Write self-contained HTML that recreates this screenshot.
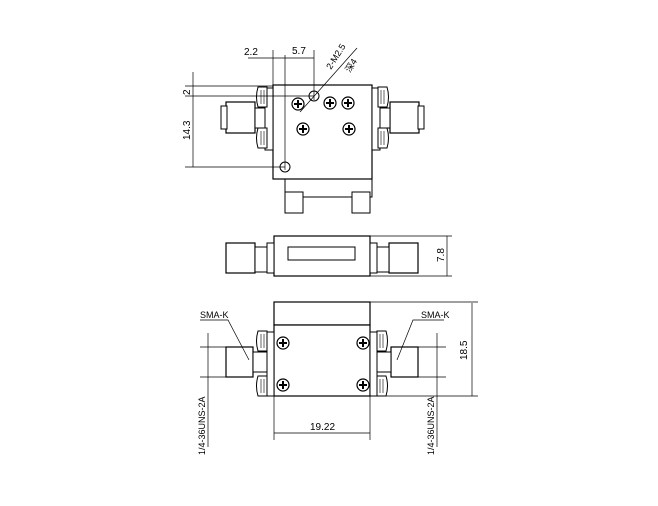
<!DOCTYPE html>
<html><head><style>html,body{margin:0;padding:0;background:#fff;width:658px;height:506px;overflow:hidden}</style></head>
<body>
<svg width="658" height="506" viewBox="0 0 658 506" xmlns="http://www.w3.org/2000/svg" font-family="Liberation Sans, Noto Sans CJK SC, sans-serif" font-size="10" fill="none" stroke="#000" stroke-width="1">
<defs>
<g id="scr"><circle r="6" fill="#fff" stroke-width="1.2"/><path d="M-4 0H4M0 -4V4" stroke-width="2"/></g>
<g id="nut"><path d="M0 0 q-3 10 0 20 h9 v-20z" fill="#fff"/><path d="M3 3v14M6 3v14" stroke-width="0.6"/></g>
</defs>
<!-- TOP VIEW -->
<rect x="285" y="179" width="87" height="18" fill="#fff"/>
<rect x="285" y="192" width="18" height="21" fill="#fff"/>
<rect x="352" y="192" width="18" height="21" fill="#fff"/>
<rect x="273" y="85" width="99" height="94" fill="#fff" stroke-width="1.2"/>
<rect x="226" y="102" width="29" height="31" fill="#fff" stroke-width="1.2"/>
<rect x="221" y="106" width="6" height="23" fill="#fff"/>
<rect x="255" y="108" width="12" height="20" fill="#fff"/>
<rect x="265" y="88" width="8" height="62" fill="#fff"/>
<use href="#nut" x="258" y="87"/><use href="#nut" x="258" y="128"/>
<rect x="390" y="102" width="29" height="31" fill="#fff" stroke-width="1.2"/>
<rect x="418" y="106" width="6" height="23" fill="#fff"/>
<rect x="378" y="108" width="12" height="20" fill="#fff"/>
<rect x="372" y="88" width="8" height="62" fill="#fff"/>
<g transform="translate(387,87) scale(-1,1)"><use href="#nut"/></g>
<g transform="translate(387,128) scale(-1,1)"><use href="#nut"/></g>
<use href="#scr" x="298" y="104"/><use href="#scr" x="330" y="103"/><use href="#scr" x="348" y="103"/>
<use href="#scr" x="303" y="129"/><use href="#scr" x="349" y="129"/>
<circle cx="314" cy="96" r="5" fill="#fff"/><circle cx="285" cy="167" r="5" fill="#fff"/>
<g stroke-width="0.7">
<path d="M273 50V85M285 55V170M314 50V100M248 58H314"/>
<path d="M193 72V167M185 86H273M185 96H314M185 167H285"/>
<path d="M300 112L357 48"/>
</g>
<g fill="#000" stroke="none">
<text x="244" y="55">2.2</text><text x="292" y="54">5.7</text>
<text transform="translate(190,95) rotate(-90)">2</text>
<text transform="translate(190,140) rotate(-90)">14.3</text>
<text transform="translate(331,70) rotate(-58)" font-size="9">2-M2.5</text>
<text transform="translate(350,73) rotate(-58)" font-size="9">深4</text>
</g>
<!-- SIDE VIEW -->
<rect x="274" y="236" width="96" height="40" fill="#fff" stroke-width="1.2"/>
<rect x="288" y="247" width="67" height="13" fill="#fff"/>
<rect x="226" y="243" width="29" height="30" fill="#fff" stroke-width="1.2"/>
<rect x="255" y="247" width="12" height="25" fill="#fff"/>
<rect x="267" y="243" width="7" height="30" fill="#fff"/>
<rect x="389" y="243" width="29" height="30" fill="#fff" stroke-width="1.2"/>
<rect x="377" y="247" width="12" height="25" fill="#fff"/>
<rect x="370" y="243" width="7" height="30" fill="#fff"/>
<g stroke-width="0.7"><path d="M370 236H452M370 276H452M447 236V276"/></g>
<text transform="translate(444,262) rotate(-90)" fill="#000" stroke="none">7.8</text>
<!-- BOTTOM VIEW -->
<rect x="274" y="302" width="96" height="23" fill="#fff" stroke-width="1.2"/>
<rect x="274" y="325" width="96" height="71" fill="#fff" stroke-width="1.2"/>
<rect x="267" y="332" width="7" height="64" fill="#fff"/>
<rect x="370" y="332" width="7" height="64" fill="#fff"/>
<use href="#nut" x="258" y="331"/><use href="#nut" x="258" y="376"/>
<g transform="translate(386,331) scale(-1,1)"><use href="#nut"/></g>
<g transform="translate(386,376) scale(-1,1)"><use href="#nut"/></g>
<rect x="226" y="347" width="27" height="30" fill="#fff" stroke-width="1.2"/>
<rect x="253" y="352" width="14" height="20" fill="#fff"/>
<rect x="391" y="347" width="27" height="30" fill="#fff" stroke-width="1.2"/>
<rect x="377" y="352" width="14" height="20" fill="#fff"/>
<use href="#scr" x="283" y="343"/><use href="#scr" x="363" y="343"/>
<use href="#scr" x="283" y="385"/><use href="#scr" x="363" y="385"/>
<g stroke-width="0.7">
<path d="M200 320H228L249 360M444 320H413L397 360"/>
<path d="M208 333V447M200 347H226M200 377H226"/>
<path d="M437 333V447M418 347H446M418 377H446"/>
<path d="M370 302H478M370 396H478M472 303V396"/>
<path d="M274 396V440M370 396V440M274 433H370"/>
</g>
<g fill="#000" stroke="none">
<text x="200" y="318" font-size="9">SMA-K</text>
<text x="421" y="318" font-size="9">SMA-K</text>
<text transform="translate(205,455) rotate(-90)" font-size="9">1/4-36UNS-2A</text>
<text transform="translate(434,455) rotate(-90)" font-size="9">1/4-36UNS-2A</text>
<text transform="translate(467,360) rotate(-90)">18.5</text>
<text x="310" y="430">19.22</text>
</g>
</svg>
</body></html>
